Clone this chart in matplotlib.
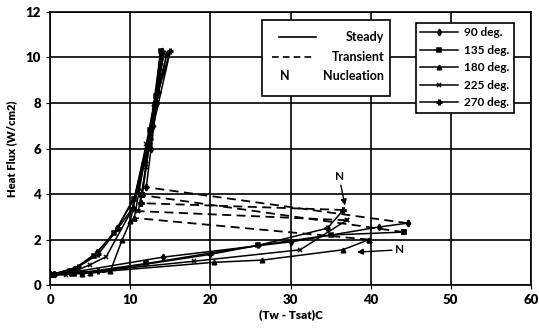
import numpy as np
import matplotlib.pyplot as plt
from matplotlib.patches import Rectangle
from matplotlib.lines import Line2D

plt.rcParams['font.family'] = ['Lato', 'DejaVu Sans']
plt.rcParams['font.weight'] = 'bold'

nan = np.nan

# steady path: natural convection up to nucleation, break, then boiling curve up and back down
x90 = [0, 2.5, 14.1, 30, 41, 44.6, nan, 12.0, 12.6, 13.3, 14.0, 12.8, 11.0, 8.4, 5.9, 3.0, 0.5]
y90 = [0.5, 0.55, 1.23, 1.9, 2.55, 2.72, nan, 4.3, 6.0, 8.0, 10.3, 7.0, 4.2, 2.5, 1.45, 0.7, 0.5]
x135 = [0, 3, 12, 26, 35, 44.1, nan, 11.5, 12.3, 13.2, 13.8, 12.5, 10.5, 8.0, 5.5, 2.5, 0.3]
y135 = [0.45, 0.5, 0.95, 1.75, 2.2, 2.33, nan, 3.95, 6.0, 8.3, 10.3, 6.8, 3.8, 2.3, 1.3, 0.6, 0.45]
x180 = [0, 5, 20.4, 26.5, 36.5, 39.8, nan, 10.5, 11.8, 13.0, 14.6, 12.2, 10.0, 9.0, 7.5, 4.0, 0.5]
y180 = [0.5, 0.55, 1.0, 1.1, 1.55, 2.0, nan, 2.95, 5.5, 8.0, 10.2, 6.3, 2.8, 2.0, 0.6, 0.5, 0.5]
x225 = [0, 4, 18, 31.2, 37.0, nan, 11.0, 12.0, 13.0, 14.2, 12.0, 10.2, 7.0, 5.0, 2.0, 0.5]
y225 = [0.5, 0.55, 1.05, 1.55, 2.85, nan, 3.25, 5.2, 7.8, 10.2, 6.2, 3.3, 1.25, 0.9, 0.45, 0.45]
x270 = [0, 6, 20, 26.0, 34.6, 36.6, nan, 11.3, 12.3, 13.5, 15.0, 12.5, 10.3, 8.5, 6.0, 3.5, 0.5]
y270 = [0.5, 0.6, 1.35, 1.75, 2.5, 3.3, nan, 3.6, 6.2, 8.5, 10.3, 6.4, 3.4, 2.5, 1.35, 0.8, 0.5]

# transient jumps (nucleation point -> boiling curve)
tx90, ty90 = [44.6, 12.0], [2.72, 4.3]
tx135, ty135 = [44.1, 11.5], [2.33, 3.95]
tx180, ty180 = [39.8, 10.5], [2.0, 2.95]
tx225, ty225 = [37.0, 11.0], [2.85, 3.25]
tx270, ty270 = [36.6, 11.3], [3.3, 3.6]

labels = ['90 deg.', '135 deg.', '180 deg.', '225 deg.', '270 deg.']
markers = ['d', 's', '^', 'x', 'P']

fig = plt.figure(figsize=(5.39, 3.30), dpi=100)
ax = fig.add_axes([0.093, 0.136, 0.892, 0.828])

steady = [(x90, y90), (x135, y135), (x180, y180), (x225, y225), (x270, y270)]
trans = [(tx90, ty90), (tx135, ty135), (tx180, ty180), (tx225, ty225), (tx270, ty270)]
handles = []
for (xs, ys), (tx, ty), lab, m in zip(steady, trans, labels, markers):
    h, = ax.plot(xs, ys, color='black', lw=1.1, marker=m, ms=3.3, mew=1.1, label=lab, zorder=3)
    ax.plot(tx, ty, color='black', lw=1.3, ls=(0, (5, 3)), marker=m, ms=3.3, mew=1.1, zorder=3)
    handles.append(h)

ax.set_xlim(0, 60)
ax.set_ylim(0, 12)
ax.set_xticks(np.arange(0, 61, 10))
ax.set_yticks(np.arange(0, 13, 2))
ax.grid(True, color='black', lw=1.2)
for s in ax.spines.values():
    s.set_color('black')
    s.set_linewidth(1.2)
ax.tick_params(labelsize=9.5, length=3, color='black')
for t in ax.get_xticklabels() + ax.get_yticklabels():
    t.set_fontweight('heavy')

ax.set_ylabel('Heat Flux (W/cm2)', fontsize=8, fontweight='heavy', labelpad=6)
ax.set_xlabel('(Tw - Tsat)C', fontsize=8.5, fontweight='heavy', labelpad=2)

# nucleation markers
ax.annotate('N', xy=(36.8, 3.5), xytext=(35.5, 4.6), fontsize=8.5, fontweight='bold',
            arrowprops=dict(arrowstyle='-|>', color='black', lw=1, shrinkA=0, shrinkB=0), zorder=5)
ax.annotate('N', xy=(38.3, 1.45), xytext=(43.0, 1.55), fontsize=8.5, fontweight='bold', va='center',
            arrowprops=dict(arrowstyle='-|>', color='black', lw=1, shrinkA=0, shrinkB=0), zorder=5)

# legend of line styles (drawn by hand)
tr = ax.transAxes
ax.add_patch(Rectangle((0.441, 0.692), 0.266, 0.279, transform=tr, facecolor='white',
                       edgecolor='black', lw=1.2, zorder=6))
ax.add_line(Line2D([0.475, 0.552], [0.907, 0.907], transform=tr, color='black', lw=1.2, zorder=7))
ax.text(0.695, 0.907, 'Steady', transform=tr, ha='right', va='center', fontsize=9, zorder=7)
ax.add_line(Line2D([0.462, 0.548], [0.836, 0.836], transform=tr, color='black', lw=1.2,
                   ls=(0, (4, 2.5)), zorder=7))
ax.text(0.695, 0.836, 'Transient', transform=tr, ha='right', va='center', fontsize=9, zorder=7)
ax.text(0.478, 0.765, 'N', transform=tr, ha='left', va='center', fontsize=9, zorder=7)
ax.text(0.695, 0.765, 'Nucleation', transform=tr, ha='right', va='center', fontsize=9, zorder=7)

leg = ax.legend(handles=handles, loc='upper right', bbox_to_anchor=(0.977, 0.982),
                fontsize=8.5, frameon=True, fancybox=False, framealpha=1, edgecolor='black',
                handlelength=3.2, labelspacing=0.55, borderpad=0.4, handletextpad=0.5)
leg.get_frame().set_linewidth(1.2)
leg.set_zorder(8)

fig.savefig('out.png', dpi=100)
